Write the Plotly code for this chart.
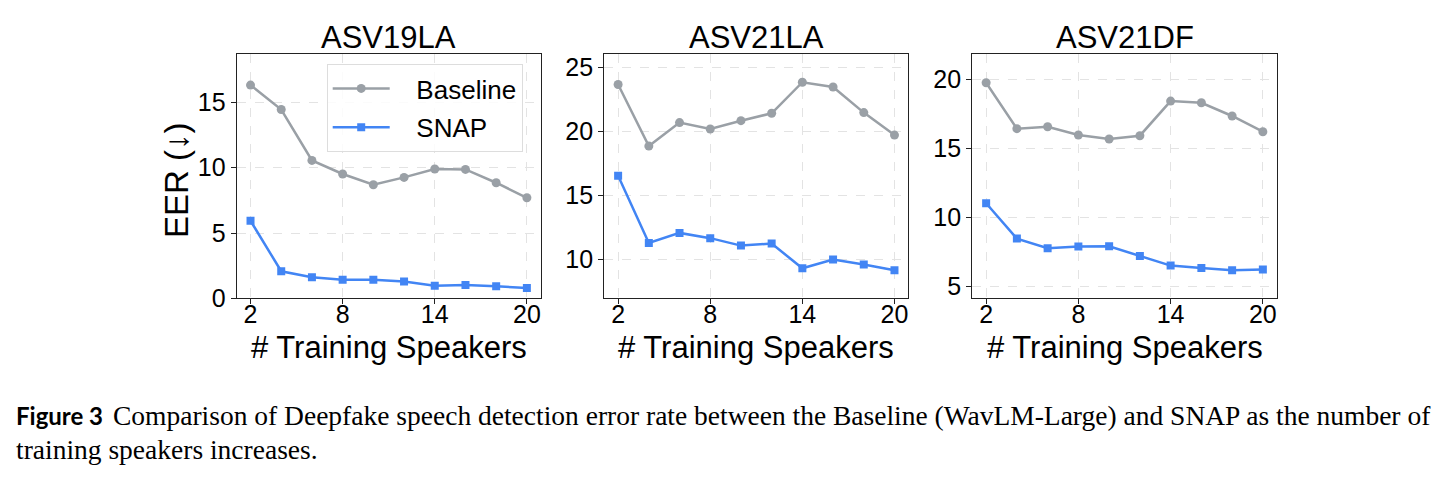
import plotly.graph_objects as go

speakers = [2, 4, 6, 8, 10, 12, 14, 16, 18, 20]

titles = ["ASV19LA", "ASV21LA", "ASV21DF"]

baseline_19la = [16.33, 14.46, 10.56, 9.52, 8.70, 9.26, 9.90, 9.87, 8.85, 7.70]
snap_19la = [5.94, 2.07, 1.61, 1.43, 1.43, 1.28, 0.97, 1.02, 0.92, 0.79]

baseline_21la = [23.65, 18.85, 20.68, 20.18, 20.83, 21.41, 23.83, 23.46, 21.46, 19.71]
snap_21la = [16.54, 11.30, 12.08, 11.67, 11.09, 11.25, 9.32, 10.00, 9.61, 9.17]

baseline_21df = [19.78, 16.45, 16.59, 15.99, 15.70, 15.94, 18.45, 18.33, 17.37, 16.23]
snap_21df = [11.04, 8.48, 7.78, 7.90, 7.92, 7.22, 6.52, 6.35, 6.18, 6.23]

x_ticks = [2, 8, 14, 20]
y_ticks = [[0, 5, 10, 15], [10, 15, 20, 25], [5, 10, 15, 20]]
y_ranges = [[0, 18.75], [6.98, 26.07], [4.15, 21.9]]

baseline_sets = [baseline_19la, baseline_21la, baseline_21df]
snap_sets = [snap_19la, snap_21la, snap_21df]

GRAY = "#9AA0A6"
BLUE = "#4285F4"
# the page adds ~15px below the figure, so the drawn figure is 466px tall
W, H = 1442, 466
FONT = "Liberation Sans"

panels_px = [(236.7, 540.7), (604.3, 908.3), (972.3, 1276.7)]
top_px, bot_px = 53.5, 298.3

fig = go.Figure()
for i in range(3):
    ax = "" if i == 0 else str(i + 1)
    fig.add_trace(go.Scatter(
        x=speakers, y=baseline_sets[i], mode="lines+markers", name="\u00a0\u00a0\u00a0Baseline",
        line=dict(color=GRAY, width=2.5), marker=dict(symbol="circle", size=9, color=GRAY),
        xaxis="x" + ax, yaxis="y" + ax, showlegend=(i == 0), legendgroup="b"))
    fig.add_trace(go.Scatter(
        x=speakers, y=snap_sets[i], mode="lines+markers", name="\u00a0\u00a0\u00a0SNAP",
        line=dict(color=BLUE, width=2.5), marker=dict(symbol="square", size=8, color=BLUE),
        xaxis="x" + ax, yaxis="y" + ax, showlegend=(i == 0), legendgroup="s"))

axis_common = dict(showline=True, mirror=True, linecolor="#222", linewidth=1.3,
                   ticks="outside", ticklen=5, tickcolor="#222", tickwidth=1.2,
                   showgrid=True, gridcolor="#e3e3e3", griddash="dash", gridwidth=1,
                   zeroline=False, tickfont=dict(family=FONT, size=25, color="black"))

layout = dict(width=W, height=H, margin=dict(l=0, r=0, t=0, b=0, autoexpand=False),
              paper_bgcolor="white", plot_bgcolor="white", autosize=False,
              font=dict(family=FONT, color="black"))
annotations = []
for i in range(3):
    ax = "" if i == 0 else str(i + 1)
    x0, x1 = panels_px[i]
    layout["xaxis" + ax] = dict(axis_common, domain=[x0 / W, x1 / W], range=[1.1, 20.9],
                                tickvals=x_ticks, anchor="y" + ax, ticklabelstandoff=-11)
    layout["yaxis" + ax] = dict(axis_common, domain=[(H - bot_px) / H, (H - top_px) / H],
                                range=y_ranges[i], tickvals=y_ticks[i], anchor="x" + ax)
    cx = (x0 + x1) / 2 / W
    annotations.append(dict(text=titles[i], x=cx, y=(H - 38) / H, xref="paper", yref="paper",
                            showarrow=False, font=dict(family=FONT, size=31, color="black"),
                            xanchor="center", yanchor="middle"))
    annotations.append(dict(text="# Training Speakers", x=cx, y=(H - 347) / H, xref="paper", yref="paper",
                            showarrow=False, font=dict(family=FONT, size=31, color="black"),
                            xanchor="center", yanchor="middle"))

annotations.append(dict(text="EER (↓)", x=176 / W, y=(H - 180) / H, xref="paper", yref="paper",
                        showarrow=False, textangle=-90, font=dict(family=FONT, size=33, color="black"),
                        xanchor="center", yanchor="middle"))

annotations.append(dict(text="<b>Figure 3</b>", x=14 / W, y=(H - 415) / H, xref="paper", yref="paper",
                        showarrow=False, font=dict(family="Lato", size=24, color="black"),
                        xanchor="left", yanchor="middle"))
annotations.append(dict(text="Comparison of Deepfake speech detection error rate between the Baseline (WavLM-Large) and SNAP as the number of",
                        x=111 / W, y=(H - 415) / H, xref="paper", yref="paper",
                        showarrow=False, font=dict(family="Liberation Serif", size=27.5, color="black"),
                        xanchor="left", yanchor="middle"))
annotations.append(dict(text="training speakers increases.",
                        x=14 / W, y=(H - 449) / H, xref="paper", yref="paper",
                        showarrow=False, font=dict(family="Liberation Serif", size=27.5, color="black"),
                        xanchor="left", yanchor="middle"))
layout["annotations"] = annotations
layout["legend"] = dict(x=326.7 / W, y=(H - 64) / H, xanchor="left", yanchor="top",
                        bgcolor="rgba(255,255,255,0.85)", bordercolor="#dddddd", borderwidth=1,
                        font=dict(family=FONT, size=26, color="black"),
                        traceorder="grouped", tracegroupgap=2, itemwidth=57)
fig.update_layout(**layout)
fig.write_html("out.html", config={"responsive": False})
